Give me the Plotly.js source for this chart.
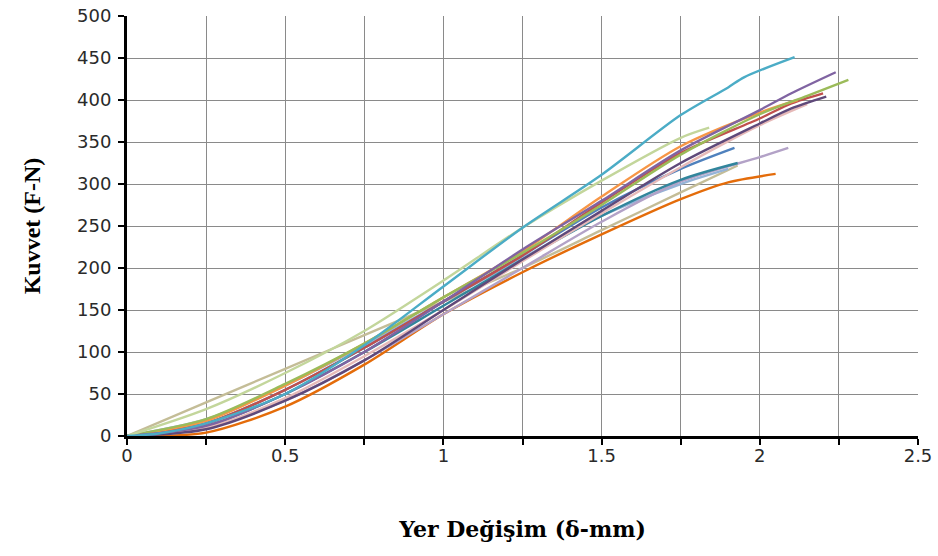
<!DOCTYPE html>
<html>
<head>
<meta charset="utf-8">
<script src="https://cdn.plot.ly/plotly-3.0.1.min.js"></script>
<style>html,body{margin:0;padding:0;background:#fff}#chart{width:938px;height:556px}</style>
</head>
<body>
<div id="chart"></div>
<script>
// Displacement (mm) and force (N) for each specimen curve
const x01 = [0,0.1,0.25,0.5,0.75,1,1.25,1.5,1.75,1.9,1.95,2.11];
const y01 = [0,3,15,50,108,178,248,311,382,415,427,451];
const x02 = [0,0.25,0.5,0.75,1,1.25,1.5,1.75,1.84];
const y02 = [0,32,75,125,185,248,304,355,367];
const x03 = [0,0.25,0.5,0.75,1,1.25,1.5,1.75,1.93];
const y03 = [0,40,80,120,160,200,245,290,322];
const x04 = [0,0.25,0.5,0.75,1,1.25,1.5,1.75,2,2.1,2.24];
const y04 = [0,12,50,100,160,222,280,340,388,408,433];
const x05 = [0,0.25,0.5,0.75,1,1.25,1.5,1.75,2,2.15,2.28];
const y05 = [0,20,62,110,165,218,275,335,383,405,424];
const x06 = [0,0.25,0.5,0.75,1,1.25,1.5,1.75,2,2.1,2.2];
const y06 = [0,15,55,105,160,215,278,337,378,396,408];
const x07 = [0,0.25,0.5,0.75,1,1.25,1.5,1.75,2,2.1,2.21];
const y07 = [0,8,42,90,150,210,268,325,372,390,404];
const x08 = [0,0.25,0.5,0.75,1,1.25,1.5,1.75,2,2.12];
const y08 = [0,18,60,110,165,220,285,345,385,400];
const x09 = [0,0.25,0.5,0.75,1,1.25,1.5,1.75,2,2.15];
const y09 = [0,10,45,95,150,208,265,320,370,395];
const x10 = [0,0.25,0.5,0.75,1,1.25,1.5,1.75,1.92];
const y10 = [0,15,55,105,160,215,272,318,343];
const x11 = [0,0.25,0.5,0.75,1,1.25,1.5,1.75,1.93];
const y11 = [0,12,50,100,155,210,262,305,325];
const x12 = [0,0.25,0.5,0.75,1,1.25,1.5,1.75,2,2.09];
const y12 = [0,10,42,90,145,200,255,303,332,343];
const x13 = [0,0.25,0.5,0.75,1,1.25,1.5,1.75,1.9,2.05];
const y13 = [0,4,35,85,145,195,240,282,302,312];
const x14 = [0,0.25,0.5,0.75,1,1.25,1.5,1.75,1.9];
const y14 = [0,20,60,108,160,212,262,300,318];

const seriesX = [x03,x14,x13,x12,x11,x10,x09,x07,x06,x08,x05,x04,x02,x01];
const seriesY = [y03,y14,y13,y12,y11,y10,y09,y07,y06,y08,y05,y04,y02,y01];
const colors = ['#C4BD97','#95B3D7','#E46C0A','#B3A2C7','#31859C','#4F81BD','#E6B9B8','#5F497A','#C0504D','#F79646','#9BBB59','#8064A2','#C3D69B','#4BACC6'];

const traces = seriesX.map((xs,i)=>({
  x: xs, y: seriesY[i], type:'scatter', mode:'lines',
  line:{color:colors[i], width:2.4, shape:'spline', smoothing:0.8},
  showlegend:false, hoverinfo:'skip'
}));

const tickFont = {family:'"DejaVu Sans", sans-serif', size:18, color:'#2a2a2a'};
const layout = {
  width:938, height:556,
  margin:{l:127, r:20, t:16, b:120},
  paper_bgcolor:'#fff', plot_bgcolor:'#fff',
  xaxis:{
    range:[0,2.5], dtick:0.5, tick0:0,
    showgrid:true, gridcolor:'#8a8a8a', gridwidth:1,
    minor:{dtick:0.25, showgrid:true, gridcolor:'#8a8a8a', gridwidth:1, ticks:'outside', ticklen:6, tickcolor:'#000', tickwidth:2},
    ticks:'outside', ticklen:6, tickwidth:2, tickcolor:'#000',
    showline:true, linecolor:'#000', linewidth:3,
    zeroline:false, tickfont:tickFont, fixedrange:true,
    ticklabelstandoff:-5,
    title:{text:'Yer Değişim (δ-mm)', font:{family:'"DejaVu Serif", serif', size:22, color:'#000', weight:'bold'}, standoff:58}
  },
  yaxis:{
    range:[0,500], dtick:50, tick0:0,
    showgrid:true, gridcolor:'#8a8a8a', gridwidth:1,
    ticks:'outside', ticklen:6, tickwidth:2, tickcolor:'#000',
    showline:true, linecolor:'#000', linewidth:3,
    zeroline:false, tickfont:tickFont, fixedrange:true,
    ticklabelstandoff:3,
    title:{text:'Kuvvet (F-N)', font:{family:'"Liberation Serif", "Times New Roman", serif', size:24, color:'#000', weight:'bold'}, standoff:30}
  }
};
Plotly.newPlot('chart', traces, layout, {staticPlot:true, displayModeBar:false});
</script>
</body>
</html>
